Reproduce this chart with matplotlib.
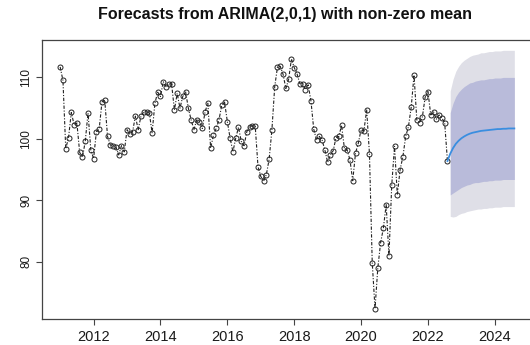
import numpy as np
import matplotlib
matplotlib.use("Agg")
import matplotlib.pyplot as plt

# Monthly observations, Jan 2011 onwards
start_year = 2011
observed = [
    111.7, 109.5, 98.4, 100.2, 104.3, 102.3, 102.6, 97.8, 97.0, 99.6, 104.2, 98.2,
    96.8, 101.2, 101.6, 106.0, 106.3, 100.4, 99.0, 98.9, 98.7, 97.4, 98.9, 97.9,
    101.5, 100.8, 101.2, 103.7, 101.5, 103.7, 104.4, 104.4, 104.2, 101.0, 105.8, 107.6,
    106.9, 109.3, 108.5, 109.0, 108.9, 104.7, 107.4, 105.0, 106.9, 107.7, 105.0, 103.1,
    101.5, 103.1, 102.8, 101.7, 104.4, 105.8, 98.5, 100.6, 101.7, 103.1, 105.5, 106.0,
    102.8, 100.1, 97.9, 100.1, 101.9, 99.6, 98.9, 101.2, 102.0, 102.1, 102.1, 95.5,
    93.9, 93.1, 94.2, 96.7, 101.5, 108.5, 111.7, 111.8, 110.5, 108.2, 109.7, 113.0,
    111.6, 110.6, 109.0, 109.0, 108.0, 108.8, 106.2, 101.6, 99.8, 100.4, 99.8, 98.2,
    96.2, 97.4, 98.1, 100.2, 100.4, 102.2, 98.5, 98.2, 96.6, 93.2, 97.7, 99.3,
    101.5, 101.3, 104.7, 97.6, 79.9, 72.4, 79.0, 83.1, 85.5, 89.3, 81.0, 92.5,
    98.8, 90.9, 95.0, 97.1, 100.4, 102.0, 105.2, 110.4, 103.1, 102.6, 103.6, 106.8,
    107.7, 103.9, 104.4, 103.2, 103.9, 103.4, 102.6, 96.4,
]

# 24-month point forecast with 80% and 95% prediction intervals
fc_mean = [97.6, 98.5, 99.2, 99.7, 100.1, 100.4, 100.65, 100.85, 101.0, 101.1, 101.2, 101.3,
           101.35, 101.4, 101.45, 101.5, 101.55, 101.6, 101.6, 101.65, 101.65, 101.7, 101.7, 101.7]
hi80 = [104.3, 105.8, 106.9, 107.6, 108.1, 108.5, 108.8, 109.1, 109.2, 109.4, 109.5, 109.6,
        109.6, 109.7, 109.8, 109.8, 109.9, 109.9, 109.9, 110.0, 110.0, 110.0, 110.0, 110.0]
lo80 = [90.9, 91.2, 91.5, 91.8, 92.1, 92.3, 92.5, 92.6, 92.8, 92.9, 92.9, 93.0,
        93.1, 93.1, 93.2, 93.2, 93.3, 93.3, 93.3, 93.4, 93.4, 93.4, 93.4, 93.4]
hi95 = [107.8, 109.7, 111.0, 111.8, 112.4, 112.8, 113.1, 113.4, 113.6, 113.7, 113.8, 114.0,
        114.0, 114.1, 114.2, 114.2, 114.3, 114.3, 114.3, 114.4, 114.4, 114.4, 114.4, 114.4]
lo95 = [87.4, 87.3, 87.4, 87.7, 87.9, 88.0, 88.2, 88.3, 88.4, 88.5, 88.6, 88.6,
        88.7, 88.7, 88.8, 88.8, 88.9, 88.9, 88.9, 89.0, 89.0, 89.0, 89.0, 89.0]

x_ticks = [2012, 2014, 2016, 2018, 2020, 2022, 2024]
y_ticks = [80, 90, 100, 110]
title = "Forecasts from ARIMA(2,0,1) with non-zero mean"

n_obs = len(observed)
t_obs = start_year + np.arange(n_obs) / 12
t_fc = start_year + (n_obs + np.arange(len(fc_mean))) / 12

plt.rcParams["font.family"] = ["Liberation Sans", "DejaVu Sans"]

fig = plt.figure(figsize=(5.30, 3.45), dpi=100)
ax = fig.add_axes([42 / 530, 26 / 345, 490.5 / 530, 279 / 345])

# prediction intervals
ax.fill_between(t_fc, lo95, hi95, color="#dfdfe7", linewidth=0, zorder=1)
ax.fill_between(t_fc, lo80, hi80, color="#b9bbda", linewidth=0, zorder=2)

# observed series
ax.plot(t_obs, observed, color="#222222", linewidth=0.8,
        linestyle=(0, (3, 1.5, 1, 1.5)), marker="o", markersize=3.6,
        markerfacecolor="none", markeredgecolor="#222222", markeredgewidth=0.7,
        zorder=3)

# point forecast
ax.plot(np.r_[t_obs[-1], t_fc], np.r_[observed[-1], fc_mean],
        color="#3a8ee0", linewidth=1.3, zorder=4)

# axis ranges padded like R's default 4%
t_lo, t_hi = t_obs[0], t_fc[-1]
pad_t = 0.04 * (t_hi - t_lo)
ax.set_xlim(t_lo - pad_t, t_hi + pad_t)
v_lo, v_hi = min(min(observed), min(lo95)), max(max(observed), max(hi95))
pad_v = 0.04 * (v_hi - v_lo)
ax.set_ylim(v_lo - pad_v, v_hi + pad_v)

ax.set_xticks(x_ticks)
ax.set_xticklabels([str(v) for v in x_ticks], fontsize=10.5)
ax.set_yticks(y_ticks)
ax.set_yticklabels([str(v) for v in y_ticks], fontsize=8.5, rotation=90, va="center")
ax.tick_params(axis="both", direction="out", length=4, width=0.8, color="#444444",
               labelcolor="#1a1a1a")
ax.tick_params(axis="x", pad=4)
ax.tick_params(axis="y", pad=3)

for side in ["left", "bottom", "top", "right"]:
    ax.spines[side].set_color("#444444")
    ax.spines[side].set_linewidth(0.9)

fig.text(285 / 530, 1 - 15 / 345, title, ha="center", va="center",
         fontsize=11.5, fontweight="bold", color="#111111")

fig.savefig("out.png", dpi=100)
